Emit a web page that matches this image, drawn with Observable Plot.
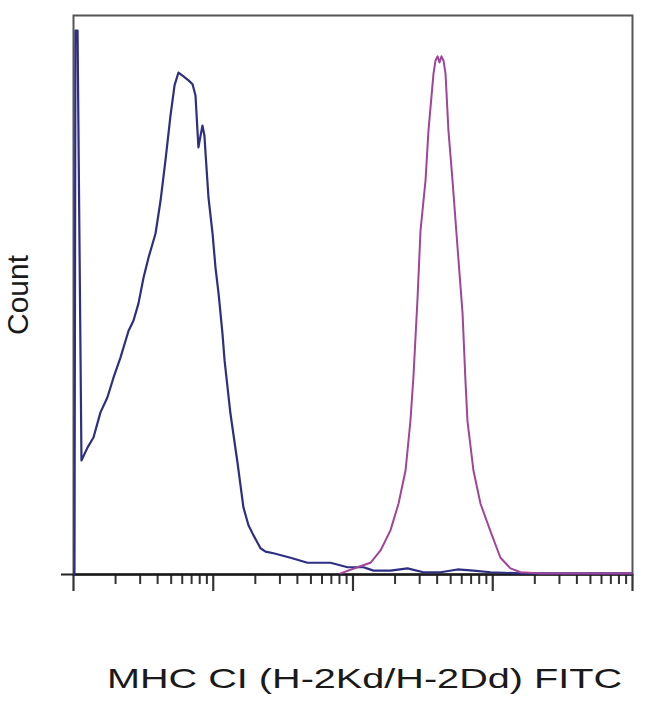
<!DOCTYPE html>
<html>
<head>
<meta charset="utf-8">
<script src="https://cdn.jsdelivr.net/npm/d3@7"></script>
<script src="https://cdn.jsdelivr.net/npm/@observablehq/plot@0.6"></script>
<style>
  body { margin: 0; background: #fff; font-family: "Liberation Sans", Arial, sans-serif; }
  #chart svg { display: block; }
</style>
</head>
<body>
<div id="chart"></div>
<script>
// x values in log10 units of FITC intensity (decades 10^1 .. 10^5), y = relative count
const decades = [1, 2, 3, 4, 5];
const minorMultipliers = [2, 3, 4, 5, 6, 7, 8, 9];

const isotypeX = [1.007, 1.014, 1.029, 1.057, 1.100, 1.143, 1.193, 1.243, 1.286, 1.336, 1.394, 1.429, 1.465, 1.501, 1.537, 1.587, 1.623, 1.658, 1.694, 1.723, 1.751, 1.787, 1.823, 1.852, 1.873, 1.887, 1.894, 1.909, 1.923, 1.937, 1.945, 1.966, 1.995, 2.016, 2.038, 2.066, 2.081, 2.102, 2.123, 2.174, 2.216, 2.252, 2.288, 2.338, 2.374, 2.431, 2.553, 2.674, 2.839, 2.961, 3.075, 3.147, 3.268, 3.390, 3.504, 3.626, 3.748, 3.862, 3.984, 4.199, 4.485, 4.771, 4.993];
const isotypeY = [0, 97.3, 97.3, 20.4, 22.7, 24.5, 29.0, 31.7, 35.2, 38.8, 43.6, 45.4, 48.5, 53.1, 56.7, 61.0, 66.9, 74.1, 82.1, 87.5, 89.8, 89.1, 88.4, 87.7, 85.7, 79.4, 76.4, 78.5, 80.3, 78.5, 75.3, 67.4, 61.0, 54.9, 50.3, 43.1, 38.3, 33.5, 28.8, 19.9, 12.0, 8.8, 7.0, 4.7, 4.1, 3.8, 3.0, 2.1, 2.1, 1.3, 1.3, 0.7, 0.7, 1.1, 0.4, 0.4, 0.9, 0.7, 0.4, 0.2, 0.2, 0.2, 0.2];

const stainedX = [2.911, 3.032, 3.125, 3.197, 3.268, 3.326, 3.376, 3.411, 3.433, 3.462, 3.483, 3.519, 3.540, 3.576, 3.590, 3.605, 3.619, 3.633, 3.648, 3.662, 3.683, 3.712, 3.748, 3.784, 3.805, 3.819, 3.862, 3.912, 3.984, 4.055, 4.127, 4.199, 4.342, 4.993];
const stainedY = [0.2, 1.3, 2.1, 4.3, 7.9, 12.7, 18.6, 27.5, 35.6, 49.5, 61.5, 70.5, 79.4, 89.6, 91.9, 92.7, 91.6, 92.7, 91.9, 89.6, 79.4, 70.5, 58.5, 46.7, 34.5, 27.5, 18.6, 12.7, 7.7, 3.0, 1.1, 0.4, 0.2, 0.2];

const xLabel = "MHC CI (H-2Kd/H-2Dd) FITC";
const yLabel = "Count";

const isotype = isotypeX.map((x, i) => ({x, y: isotypeY[i]}));
const stained = stainedX.map((x, i) => ({x, y: stainedY[i]}));

const majorTicks = decades;
const minorTicks = decades.slice(0, -1).flatMap(d => minorMultipliers.map(m => d + Math.log10(m)));
const noLabel = () => "";

const plot = Plot.plot({
  width: 650,
  height: 610,
  marginLeft: 73,
  marginRight: 18,
  marginTop: 15,
  marginBottom: 36,
  x: {type: "linear", domain: [1, 5]},
  y: {domain: [0, 100]},
  marks: [
    Plot.frame({stroke: "#555", strokeWidth: 2}),
    Plot.axisX({ticks: minorTicks, tickSize: 10, tickFormat: noLabel, label: null, stroke: "#333", strokeWidth: 2}),
    Plot.axisX({ticks: majorTicks, tickSize: 17, tickFormat: noLabel, label: null, stroke: "#333", strokeWidth: 2.2}),
    Plot.axisY({ticks: [0], tickSize: 12, tickFormat: noLabel, label: null, stroke: "#222", strokeWidth: 2}),
    Plot.ruleY([0], {stroke: "#1a1a1a", strokeWidth: 2.5}),
    Plot.line(isotype, {x: "x", y: "y", stroke: "#2e2e82", strokeWidth: 2.2}),
    Plot.line(stained, {x: "x", y: "y", stroke: "#a0449c", strokeWidth: 2}),
    Plot.text([yLabel], {frameAnchor: "left", textAnchor: "middle", dx: -55, rotate: -90, fontSize: 30, fill: "#1a1a1a", fontFamily: "Liberation Sans, Arial, sans-serif"})
  ]
});
document.getElementById("chart").appendChild(plot);

// x-axis title below the SVG
const ns = "http://www.w3.org/2000/svg";
const cap = document.createElementNS(ns, "svg");
cap.setAttribute("width", 650);
cap.setAttribute("height", 108);
const t = document.createElementNS(ns, "text");
t.setAttribute("x", 107);
t.setAttribute("y", 78);
t.setAttribute("font-size", 28);
t.setAttribute("font-family", "Liberation Sans, Arial, sans-serif");
t.setAttribute("fill", "#1a1a1a");
t.setAttribute("textLength", 515);
t.setAttribute("lengthAdjust", "spacingAndGlyphs");
t.textContent = xLabel;
cap.appendChild(t);
document.getElementById("chart").appendChild(cap);
</script>
</body>
</html>
